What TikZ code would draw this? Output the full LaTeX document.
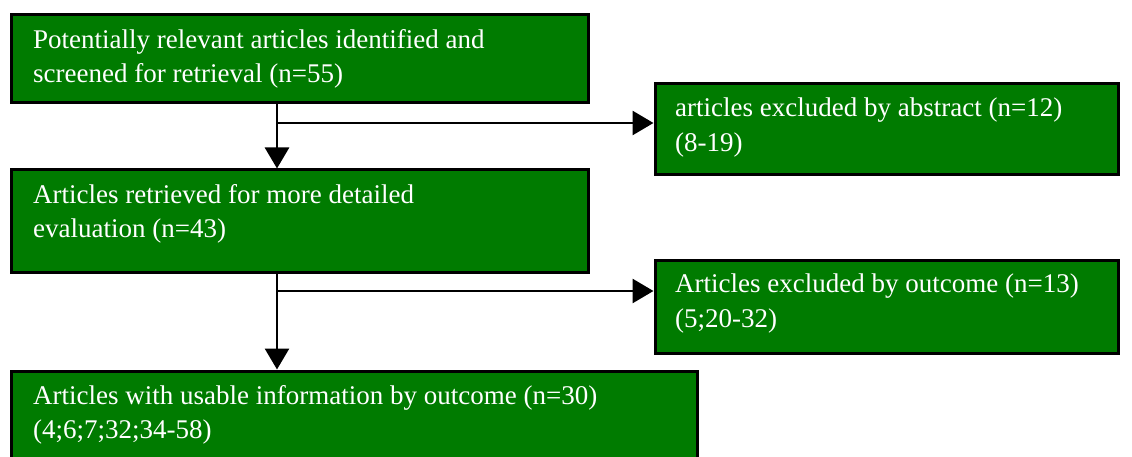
\documentclass[tikz,border=0pt]{standalone}
\usepackage{fontspec}
\setmainfont{Liberation Serif}
\usetikzlibrary{arrows.meta}
\definecolor{boxgreen}{RGB}{0,123,0}
\begin{document}
\begin{tikzpicture}[x=1pt,y=-1pt,
  stage/.style={draw=black, line width=3pt, fill=boxgreen, inner sep=0pt, anchor=north west},
  boxtext/.style={anchor=north west, inner sep=0pt, align=left, text=white,
    font=\fontsize{27}{34.5}\selectfont},
  trunk/.style={line width=2.8pt},
  link/.style={trunk, -{Triangle[length=21pt,width=24pt]}}]
\useasboundingbox (0,0) rectangle (1132,457);
\clip (0,0) rectangle (1132,457);

% boxes
\node[stage, minimum width=577pt, minimum height=88pt]    (found)    at (9.5,13.5) {};
\node[stage, minimum width=463pt, minimum height=91pt]    (abstract) at (653.5,82.5) {};
\node[stage, minimum width=577pt, minimum height=102pt]   (retrieved) at (9.5,168.5) {};
\node[stage, minimum width=463pt, minimum height=93pt]    (outcome)  at (653.5,258.5) {};
\node[stage, minimum width=686pt, minimum height=105.5pt] (usable)   at (9.5,369.5) {};

% box texts
\node[boxtext] (foundtxt)     at (33,29)  {Potentially relevant articles identified and\\screened for retrieval (n=55)};
\node[boxtext] (abstracttxt)  at (675,98) {articles excluded by abstract (n=12)\\(8-19)};
\node[boxtext] (retrievedtxt) at (33,184) {Articles retrieved for more detailed\\evaluation (n=43)};
\node[boxtext] (outcometxt)   at (675,274) {Articles excluded by outcome (n=13)\\(5;20-32)};
\node[boxtext] (usabletxt)    at (33,385) {Articles with usable information by outcome (n=30)\\(4;6;7;32;34-58)};

% connectors
\coordinate (split1) at (277,123);
\coordinate (split2) at (277,291);
\draw[trunk] (split1 |- found.south) -- (split1);
\draw[link]  (split1) -- (split1 |- retrieved.north);
\draw[link]  (split1) -- (split1 -| abstract.west);
\draw[trunk] (split2 |- retrieved.south) -- (split2);
\draw[link]  (split2) -- (split2 |- usable.north);
\draw[link]  (split2) -- (split2 -| outcome.west);
\end{tikzpicture}
\end{document}
